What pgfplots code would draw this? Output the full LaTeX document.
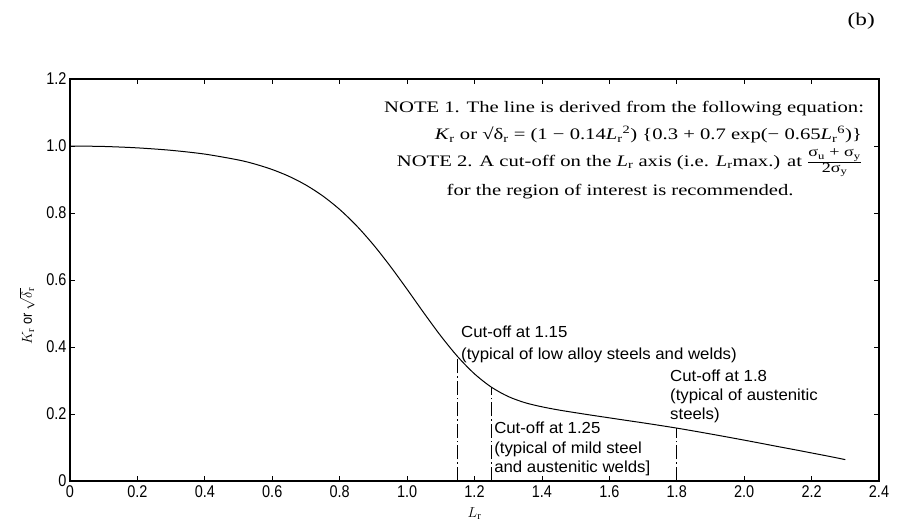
\documentclass[border=0pt]{standalone}
\usepackage{fontspec}
\usepackage{pgfplots}
\pgfplotsset{compat=1.18}
\setmainfont{Liberation Serif}
\newfontfamily\note[FakeStretch=1.29]{Liberation Serif}
\newfontfamily\lab[FakeStretch=1.05]{Liberation Sans}
\newfontfamily\tck[FakeStretch=0.85]{Liberation Sans}

% failure assessment curve K_r vs L_r
\pgfplotstableread{
L     K
0.00  1.0000
0.10  0.9986
0.20  0.9944
0.30  0.9871
0.40  0.9758
0.50  0.9582
0.55  0.9457
0.60  0.9297
0.65  0.9093
0.70  0.8834
0.75  0.8508
0.80  0.8106
0.85  0.7621
0.90  0.7053
0.95  0.6413
1.00  0.5723
1.05  0.5014
1.10  0.4330
1.15  0.3713
1.20  0.3198
1.25  0.2802
1.30  0.2522
1.35  0.2337
1.40  0.2215
1.45  0.2119
1.50  0.2038
1.55  0.1960
1.60  0.1885
1.65  0.1810
1.70  0.1736
1.75  0.1659
1.80  0.1579
1.85  0.1493
1.90  0.1404
1.95  0.1313
2.00  0.1220
2.05  0.1125
2.10  0.1028
2.15  0.0934
2.20  0.0837
2.25  0.0740
2.30  0.0638
}\curve

\begin{document}
\begin{tikzpicture}
\begin{axis}[name=ax,
    scale only axis, width=809pt, height=402pt,
    xmin=0, xmax=2.4, ymin=0, ymax=1.2,
    xtick={0,0.2,0.4,0.6,0.8,1.0,1.2,1.4,1.6,1.8,2.0,2.2,2.4},
    xticklabels={0,0.2,0.4,0.6,0.8,1.0,1.2,1.4,1.6,1.8,2.0,2.2,2.4},
    ytick={0,0.2,0.4,0.6,0.8,1.0,1.2},
    yticklabels={0,0.2,0.4,0.6,0.8,1.0,1.2},
    tick align=inside, major tick length=5pt,
    axis line style={line width=1.1pt},
    tick style={black, line width=0.8pt},
    ticklabel style={font=\tck\fontsize{17}{19}\selectfont},
    xticklabel style={yshift=-1pt},
    /pgf/number format/assume math mode=true,
    xlabel={$L_{\mathrm r}$},
    ylabel={$K_{\mathrm r}$ or $\sqrt{\delta_{\mathrm r}}$},
    label style={font=\tck\fontsize{15}{17}\selectfont},
    xlabel style={at={(axis description cs:0.5,-0.08)}, anchor=center},
    ylabel style={at={(axis description cs:-0.053,0.41)}, anchor=center, inner sep=1pt},
    clip=false]
\addplot[black, line width=1pt, smooth] table[x=L, y=K] {\curve};
\addplot[black, line width=0.9pt, dash pattern=on 14pt off 3pt on 1.5pt off 3pt] coordinates {(1.15,0) (1.15,0.3713)};
\addplot[black, line width=0.9pt, dash pattern=on 14pt off 3pt on 1.5pt off 3pt] coordinates {(1.25,0) (1.25,0.2802)};
\addplot[black, line width=0.9pt, dash pattern=on 14pt off 3pt on 1.5pt off 3pt] coordinates {(1.80,0) (1.80,0.1579)};

\node[anchor=base east, inner sep=0, font=\note\fontsize{16}{18}\selectfont] at (axis cs:2.356,1.101) {NOTE 1. The line is derived from the following equation:};
\node[anchor=base east, inner sep=0, font=\note\fontsize{16}{18}\selectfont] at (axis cs:2.350,1.018) {\textit{K}\textsubscript{r} or √δ\textsubscript{r} = (1 − 0.14\textit{L}\textsubscript{r}\textsuperscript{2}) \{0.3 + 0.7 exp(− 0.65\textit{L}\textsubscript{r}\textsuperscript{6})\}};
\node[anchor=base east, inner sep=0, font=\note\fontsize{16}{18}\selectfont] at (axis cs:2.350,0.940) {NOTE 2. A cut-off on the \textit{L}\textsubscript{r} axis (i.e. \textit{L}\textsubscript{r}max.) at $\frac{\mbox{\note\fontsize{14}{15}\selectfont σ\textsubscript{u} + σ\textsubscript{y}}}{\mbox{\note\fontsize{14}{15}\selectfont 2σ\textsubscript{y}}}$};
\node[anchor=base, inner sep=0, font=\note\fontsize{16}{18}\selectfont] at (axis cs:1.632,0.851) {for the region of interest is recommended.};

\node[anchor=north west, inner sep=0, align=left, font=\lab\fontsize{16}{22}\selectfont] at (axis cs:1.160,0.463) {Cut-off at 1.15\\(typical of low alloy steels and welds)};
\node[anchor=north west, inner sep=0, align=left, font=\lab\fontsize{16}{19}\selectfont] at (axis cs:1.780,0.331) {Cut-off at 1.8\\(typical of austenitic\\steels)};
\node[anchor=north west, inner sep=0, align=left, font=\lab\fontsize{16}{19.5}\selectfont] at (axis cs:1.258,0.176) {Cut-off at 1.25\\(typical of mild steel\\and austenitic welds]};
\end{axis}
\node[anchor=east, inner sep=0, font=\note\fontsize{18}{20}\selectfont] at ([shift={(-4pt,58pt)}]ax.north east) {(b)};
\pgfresetboundingbox
\path[use as bounding box] ([shift={(-70pt,-43pt)}]ax.south west) rectangle ([shift={(22pt,79pt)}]ax.north east);
\end{tikzpicture}
\end{document}
